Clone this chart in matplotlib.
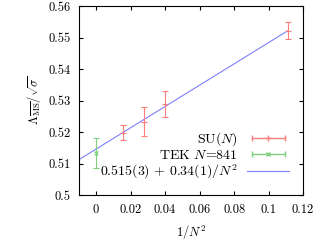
import numpy as np
import matplotlib
matplotlib.use("Agg")
import matplotlib.pyplot as plt
from matplotlib.lines import Line2D
from matplotlib.legend_handler import HandlerLine2D, HandlerTuple
from matplotlib.ticker import FormatStrFormatter, MultipleLocator

plt.rcParams['font.family'] = 'serif'
plt.rcParams['font.serif'] = ['cmr10']
plt.rcParams['mathtext.fontset'] = 'cm'
plt.rcParams['axes.formatter.use_mathtext'] = True

# SU(N) data, N = 8, 6, 5, 3
su_N = np.array([8, 6, 5, 3])
su_y = np.array([0.5198, 0.5232, 0.5290, 0.5521])
su_err = np.array([0.0023, 0.0046, 0.0041, 0.0027])

# TEK N=841
tek_x = np.array([1.0 / 841**2])
tek_y = np.array([0.5133])
tek_err = np.array([0.0047])

# fit
fit_a = 0.5146
fit_b = 0.338

red = '#ff7f7f'
green = '#7fcf7f'
blue = '#7f7fff'

fig = plt.figure(figsize=(3.18, 2.42), dpi=100)
ax = fig.add_axes([0.248, 0.194, 0.705, 0.781])

su_x = 1.0 / su_N**2
xf = np.linspace(-0.01, 1.0 / 9, 50)
ax.plot(xf, fit_a + fit_b * xf, color=blue, lw=0.8)
ax.errorbar(su_x, su_y, yerr=su_err, fmt='+', color=red, ms=4, mew=0.8,
            elinewidth=0.8, capsize=2.2, capthick=0.8)
ax.errorbar(tek_x, tek_y, yerr=tek_err, fmt='x', color=green, ms=3, mew=0.8,
            elinewidth=0.8, capsize=2.2, capthick=0.8)

ax.set_xlim(-0.01, 0.12)
ax.set_ylim(0.5, 0.56)
ax.yaxis.set_major_locator(MultipleLocator(0.01))
ax.xaxis.set_major_formatter(FormatStrFormatter('%g'))
ax.yaxis.set_major_formatter(FormatStrFormatter('%g'))
ax.set_xticks(np.arange(0, 0.121, 0.02))
ax.tick_params(direction='in', top=True, right=True, length=3, labelsize=9, pad=6)
ax.set_xlabel(r'$1/N^2$', fontsize=9, labelpad=6)
ax.set_ylabel(r'$\Lambda_{\overline{\rm MS}}/\sqrt{\sigma}$', fontsize=9)

# legend handles in gnuplot style
cap_r = Line2D([], [], color=red, marker='|', ms=4, lw=1)
mid_r = Line2D([], [], color=red, marker='+', ms=4, ls='none')
cap_g = Line2D([], [], color=green, marker='|', ms=4, lw=1)
mid_g = Line2D([], [], color=green, marker='x', ms=3, ls='none')
fit_h = Line2D([], [], color=blue, lw=0.8)
hmap = {cap_r: HandlerLine2D(numpoints=2), mid_r: HandlerLine2D(numpoints=1),
        cap_g: HandlerLine2D(numpoints=2), mid_g: HandlerLine2D(numpoints=1),
        fit_h: HandlerLine2D(numpoints=1), tuple: HandlerTuple(ndivide=1)}
leg = ax.legend([(cap_r, mid_r), (cap_g, mid_g), fit_h],
                [r'SU($N$)', r'TEK $N$=841', r'$0.515(3)\,+\,0.34(1)/N^2$'],
                handler_map=hmap, loc='lower right', frameon=False,
                markerfirst=False, fontsize=10, labelspacing=0.05,
                handlelength=3.0, handletextpad=0.7, borderaxespad=0.6)
for t in leg.get_texts():
    t.set_ha('right')

fig.savefig('out.png', dpi=100)
